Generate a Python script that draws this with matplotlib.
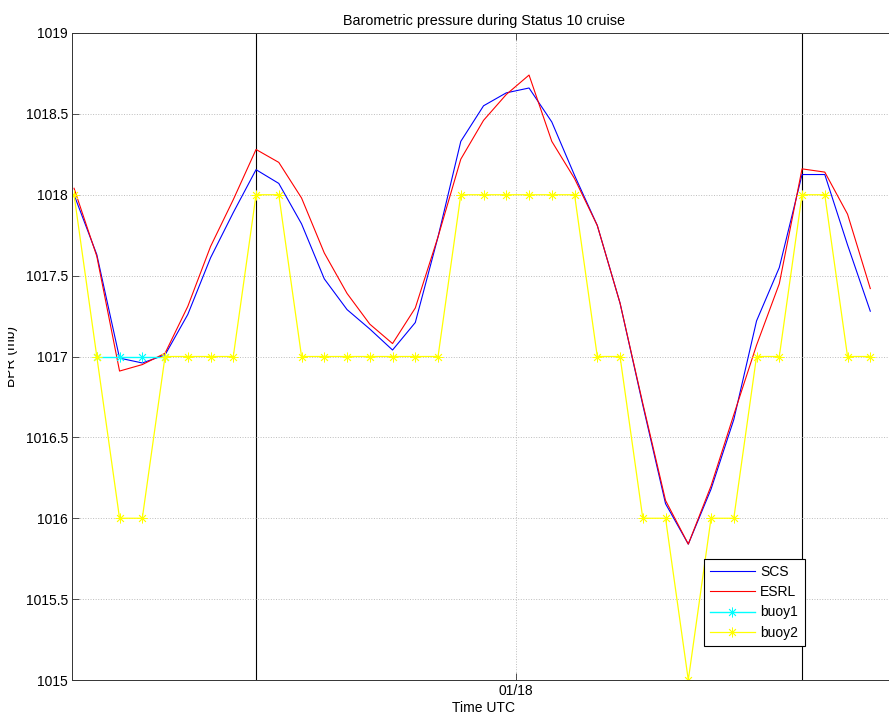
import matplotlib.pyplot as plt
import numpy as np
from matplotlib.transforms import Bbox, TransformedBbox

plt.rcParams['font.family'] = ['Liberation Sans', 'DejaVu Sans']

# hourly samples, hour 0 .. 35
hours = np.arange(36)

scs = [1018.00, 1017.63, 1016.99, 1016.96, 1017.01, 1017.26, 1017.61, 1017.89, 1018.155,
       1018.07, 1017.82, 1017.48, 1017.29, 1017.17, 1017.04, 1017.21, 1017.74, 1018.33,
       1018.55, 1018.63, 1018.66, 1018.45, 1018.12, 1017.81, 1017.33, 1016.70, 1016.09,
       1015.84, 1016.18, 1016.61, 1017.22, 1017.55, 1018.125, 1018.125, 1017.69, 1017.28]

esrl = [1018.04, 1017.62, 1016.91, 1016.95, 1017.02, 1017.31, 1017.68, 1017.97, 1018.28,
        1018.20, 1017.98, 1017.64, 1017.39, 1017.20, 1017.08, 1017.30, 1017.74, 1018.22,
        1018.46, 1018.62, 1018.74, 1018.33, 1018.10, 1017.81, 1017.33, 1016.71, 1016.11,
        1015.84, 1016.20, 1016.64, 1017.07, 1017.45, 1018.16, 1018.14, 1017.88, 1017.42]

buoy1 = [np.nan, 1017, 1017, 1017, 1017] + [np.nan] * 31

buoy2 = [1018, 1017, 1016, 1016, 1017, 1017, 1017, 1017, 1018, 1018,
         1017, 1017, 1017, 1017, 1017, 1017, 1017, 1018, 1018, 1018,
         1018, 1018, 1018, 1017, 1017, 1016, 1016, 1015, 1016, 1016,
         1017, 1017, 1018, 1018, 1017, 1017]

day_lines = [8, 32]
xtick_pos = [19.43]
xtick_labels = ['01/18']
yticks = [1015, 1015.5, 1016, 1016.5, 1017, 1017.5, 1018, 1018.5, 1019]

# matlab style '*' marker: 8 armed asterisk
star = (8, 2, 0)

fig = plt.figure(figsize=(8.89, 7.19), dpi=100)
ax = fig.add_axes([72/889, 1 - 680/719, (896 - 72)/889, (680 - 33)/719])

ax.plot(hours, scs, color='#0000ff', lw=0.8, label='SCS')
ax.plot(hours, esrl, color='#ff0000', lw=0.8, label='ESRL')
ax.plot(hours, buoy1, color='#00ffff', lw=1.0, marker=star, ms=7, mew=0.6, label='buoy1')
ax.plot(hours, buoy2, color='#ffff00', lw=0.9, marker=star, ms=7, mew=0.6, label='buoy2')

for d in day_lines:
    ax.axvline(d, color='k', lw=0.8, zorder=0.5)

ax.set_xlim(-0.09, 36.13)
ax.set_ylim(1015, 1019)
ax.set_yticks(yticks)
ax.set_yticklabels(['%g' % v for v in yticks])
ax.set_xticks(xtick_pos)
ax.set_xticklabels(xtick_labels)

ax.grid(True, ls=':', color='#bdbdbd', lw=0.7)
ax.set_axisbelow(True)
ax.tick_params(direction='in', length=5, width=0.6, labelsize=10, pad=3,
               top=True, right=True, colors='#333333', labelcolor='k')
for s in ax.spines.values():
    s.set_linewidth(0.7)
    s.set_color('#333333')

ax.set_title('Barometric pressure during Status 10 cruise', fontsize=10.4, pad=6)
ax.set_xlabel('Time UTC', fontsize=10, labelpad=2)
ylab = ax.set_ylabel('BPR (mb)', fontsize=10)
ax.yaxis.set_label_coords(-0.066, 0.5)
# the left part of the label is cut off in the original
ylab.set_clip_box(TransformedBbox(Bbox([[8/889, 0], [1, 1]]), fig.transFigure))
ylab.set_clip_on(True)

leg = ax.legend(loc='lower left', bbox_to_anchor=(0.767, 0.0526), borderaxespad=0,
                fontsize=10, fancybox=False, framealpha=1, edgecolor='k',
                handlelength=3.2, handletextpad=0.4, labelspacing=0.45,
                borderpad=0.45)
leg.get_frame().set_linewidth(0.8)

fig.savefig('out.png', dpi=100)
